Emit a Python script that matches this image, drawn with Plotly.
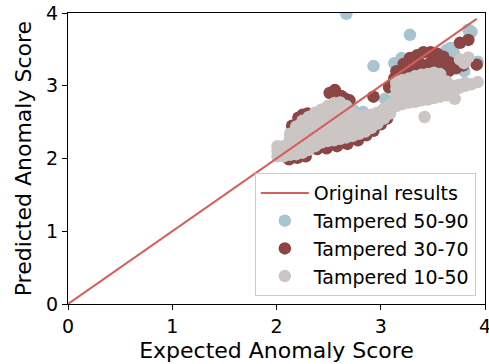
import plotly.graph_objects as go

# Tampered 50-90 (drawn first, lowest layer)
t5090_x = [2.67, 3.28, 2.93, 3.84, 3.87, 3.93, 3.13, 3.20, 3.63, 3.67, 3.04, 3.10, 2.83, 2.74,
           3.24, 3.70, 2.30, 2.50, 2.70, 3.30, 3.50, 2.10, 2.40, 2.60, 3.60, 3.80]
t5090_y = [3.99, 3.70, 3.27, 3.77, 3.74, 3.33, 3.31, 3.38, 3.49, 3.52, 2.82, 2.78, 2.64, 2.66,
           3.33, 3.45, 2.30, 2.40, 2.50, 2.95, 3.00, 2.10, 2.35, 2.45, 3.10, 3.20]

# Tampered 30-70
t3070_x = [2.15, 2.17, 2.21, 2.25, 2.30, 2.39, 2.51, 2.56, 2.62, 2.66, 2.70, 2.93,
           2.12, 2.20, 2.28, 2.39, 2.48, 2.58, 2.68, 2.78, 2.86, 2.93, 3.00, 3.06,
           3.08, 3.10, 3.13, 3.15, 3.18, 3.22, 3.28, 3.35, 3.41, 3.48, 3.54, 3.60, 3.66,
           3.58, 3.48, 3.38, 3.30, 3.22, 3.42, 3.55, 3.65, 3.76, 3.84, 3.79, 3.92, 3.72]
t3070_y = [2.45, 2.36, 2.56, 2.60, 2.62, 2.60, 2.90, 2.94, 2.86, 2.82, 2.80, 2.85,
           1.99, 2.01, 2.03, 2.13, 2.14, 2.17, 2.20, 2.25, 2.32, 2.38, 2.47, 2.55,
           2.98, 3.00, 3.10, 3.20, 3.12, 3.30, 3.38, 3.42, 3.46, 3.46, 3.44, 3.40, 3.32,
           3.30, 3.32, 3.30, 3.24, 3.18, 3.22, 3.22, 3.20, 3.59, 3.63, 3.28, 3.29, 3.24]

# Tampered 10-50 (top layer)
t1050_x = [2.01, 2.01, 2.01,
           2.07, 2.07, 2.07,
           2.13, 2.13, 2.13, 2.13, 2.13,
           2.19, 2.19, 2.19, 2.19, 2.19, 2.19,
           2.25, 2.25, 2.25, 2.25, 2.25, 2.25, 2.25,
           2.31, 2.31, 2.31, 2.31, 2.31, 2.31, 2.31,
           2.37, 2.37, 2.37, 2.37, 2.37, 2.37, 2.37,
           2.43, 2.43, 2.43, 2.43, 2.43, 2.43, 2.43,
           2.49, 2.49, 2.49, 2.49, 2.49, 2.49, 2.49,
           2.55, 2.55, 2.55, 2.55, 2.55, 2.55, 2.55, 2.55,
           2.61, 2.61, 2.61, 2.61, 2.61, 2.61, 2.61, 2.61,
           2.67, 2.67, 2.67, 2.67, 2.67, 2.67, 2.67,
           2.73, 2.73, 2.73, 2.73, 2.73,
           2.79, 2.79, 2.79, 2.79,
           2.85, 2.85, 2.85, 2.85,
           2.91, 2.91, 2.91, 2.91,
           2.97, 2.97, 2.97, 2.97,
           3.03, 3.03, 3.03, 3.03,
           3.09, 3.09, 3.09, 3.09,
           3.15, 3.15, 3.15, 3.15, 3.15, 3.15,
           3.21, 3.21, 3.21, 3.21, 3.21, 3.21,
           3.27, 3.27, 3.27, 3.27, 3.27, 3.27,
           3.33, 3.33, 3.33, 3.33, 3.33, 3.33,
           3.39, 3.39, 3.39, 3.39, 3.39, 3.39,
           3.45, 3.45, 3.45, 3.45, 3.45, 3.45,
           3.51, 3.51, 3.51, 3.51, 3.51, 3.51,
           3.57, 3.57, 3.57, 3.57, 3.57,
           3.63, 3.63, 3.63, 3.63,
           3.69, 3.69, 3.69,
           3.75, 3.75,
           3.81, 3.81,
           3.87, 3.93,
           3.42, 3.76, 3.84, 3.80, 3.71]
t1050_y = [2.03, 2.10, 2.17,
           2.03, 2.10, 2.17,
           2.05, 2.13, 2.21, 2.28, 2.34,
           2.06, 2.14, 2.22, 2.30, 2.37, 2.44,
           2.08, 2.16, 2.24, 2.32, 2.40, 2.47, 2.52,
           2.12, 2.20, 2.28, 2.36, 2.44, 2.51, 2.57,
           2.17, 2.25, 2.33, 2.41, 2.49, 2.56, 2.63,
           2.22, 2.30, 2.38, 2.46, 2.54, 2.61, 2.67,
           2.24, 2.32, 2.40, 2.48, 2.56, 2.64, 2.72,
           2.25, 2.33, 2.41, 2.49, 2.57, 2.65, 2.72, 2.76,
           2.27, 2.35, 2.43, 2.51, 2.59, 2.67, 2.74, 2.77,
           2.29, 2.37, 2.45, 2.53, 2.61, 2.68, 2.72,
           2.31, 2.39, 2.47, 2.55, 2.62,
           2.34, 2.42, 2.50, 2.58,
           2.37, 2.45, 2.52, 2.58,
           2.42, 2.50, 2.56, 2.60,
           2.48, 2.54, 2.59, 2.63,
           2.55, 2.60, 2.65, 2.68,
           2.62, 2.67, 2.71, 2.74,
           2.72, 2.80, 2.88, 2.96, 3.03, 3.06,
           2.75, 2.83, 2.91, 2.99, 3.05, 3.08,
           2.77, 2.85, 2.93, 3.01, 3.07, 3.10,
           2.78, 2.86, 2.94, 3.02, 3.09, 3.13,
           2.80, 2.88, 2.96, 3.04, 3.11, 3.15,
           2.81, 2.89, 2.97, 3.05, 3.12, 3.16,
           2.83, 2.91, 2.99, 3.07, 3.14, 3.18,
           2.85, 2.93, 3.01, 3.09, 3.16,
           2.87, 2.95, 3.02, 3.06,
           2.87, 2.94, 3.00,
           2.97, 3.01,
           3.00, 3.04,
           3.02, 3.05,
           2.57, 3.36, 3.39, 3.31, 2.82]

# Reference diagonal y = x
orig_x = [0.0, 3.92]
orig_y = [0.0, 3.92]

FONT = "DejaVu Sans"
MARKER = 12.5

fig = go.Figure()
fig.add_trace(go.Scatter(x=t5090_x, y=t5090_y, mode="markers", name="Tampered 50-90",
                         marker=dict(size=MARKER, color="#a8c5cf", line=dict(width=0)),
                         legendgroup="b", legendrank=2))
fig.add_trace(go.Scatter(x=t3070_x, y=t3070_y, mode="markers", name="Tampered 30-70",
                         marker=dict(size=MARKER, color="#8b4545", line=dict(width=0)),
                         legendgroup="c", legendrank=3))
fig.add_trace(go.Scatter(x=t1050_x, y=t1050_y, mode="markers", name="Tampered 10-50",
                         marker=dict(size=MARKER, color="#cbc6c3", line=dict(width=0)),
                         legendgroup="d", legendrank=4))
fig.add_trace(go.Scatter(x=orig_x, y=orig_y, mode="lines", name="Original results",
                         line=dict(color="#d65f5a", width=2),
                         legendgroup="a", legendrank=1))

axis_common = dict(
    range=[0, 4], tickvals=[0, 1, 2, 3, 4], ticktext=["0", "1", "2", "3", "4"],
    showgrid=False, zeroline=False, showline=True, linecolor="black", linewidth=1,
    mirror=True, ticks="outside", ticklen=5, tickwidth=1, tickcolor="black",
    ticklabeloverflow="allow", automargin=False,
    tickfont=dict(family=FONT, size=19, color="black"),
)

fig.update_layout(
    width=489, height=364,
    margin=dict(l=68, r=4, t=13, b=60),
    plot_bgcolor="white", paper_bgcolor="white",
    showlegend=True,
    legend=dict(
        x=0.978, y=0.027, xanchor="right", yanchor="bottom",
        bgcolor="rgba(255,255,255,0.8)", bordercolor="#cccccc", borderwidth=1,
        font=dict(family=FONT, size=19, color="black"),
        tracegroupgap=0, itemwidth=48,
    ),
    xaxis=dict(axis_common, title=dict(text="Expected Anomaly Score", standoff=6,
                                       font=dict(family=FONT, size=22, color="black"))),
    yaxis=dict(axis_common),
    annotations=[dict(
        text="Predicted Anomaly Score", textangle=-90, showarrow=False,
        xref="paper", yref="paper", x=-0.106, y=0.5, xanchor="center", yanchor="middle",
        font=dict(family=FONT, size=22, color="black"),
    )],
)

fig.write_html("out.html")
